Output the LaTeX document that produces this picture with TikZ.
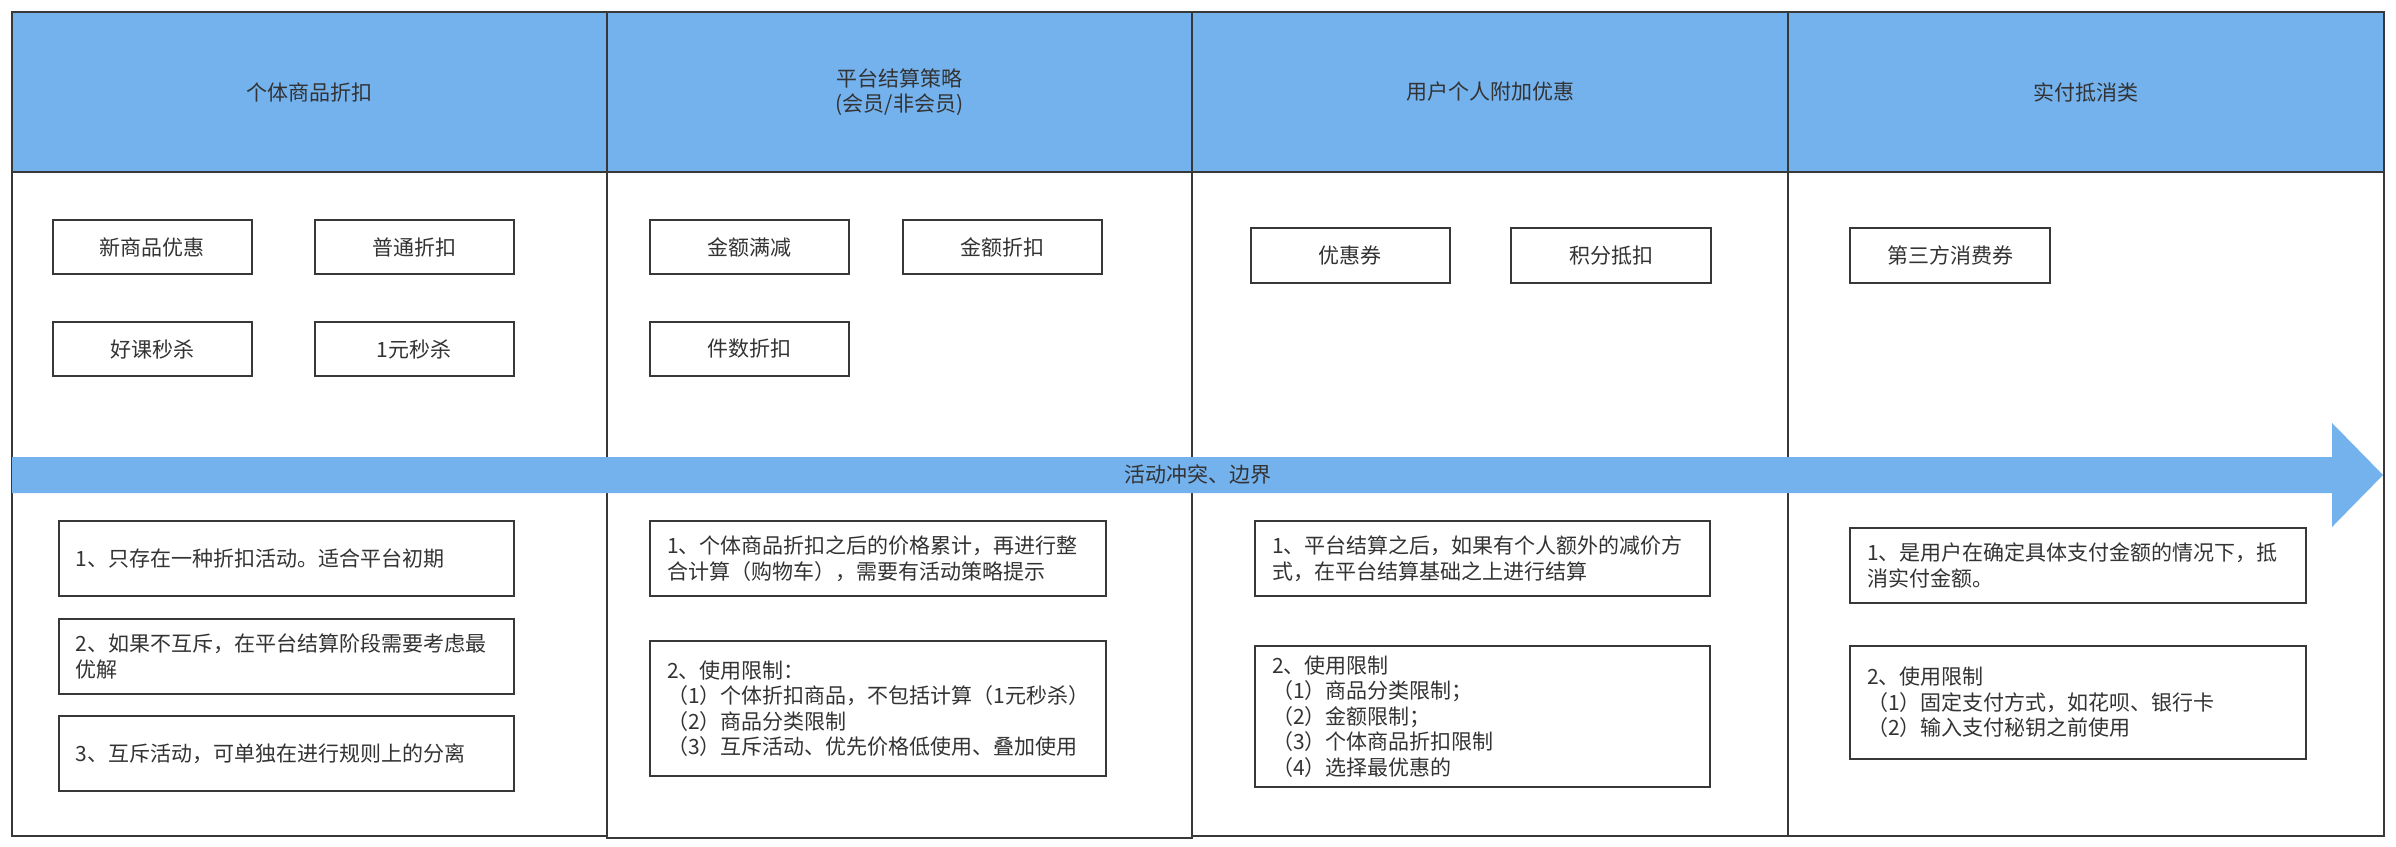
\documentclass[tikz,border=0pt]{standalone}
\usepackage{fontspec}
\setmainfont{Noto Sans CJK SC}
\definecolor{hblue}{RGB}{116,178,238}
\definecolor{linec}{RGB}{56,56,56}
\definecolor{txtc}{RGB}{51,51,51}
\begin{document}
\begin{tikzpicture}[x=1pt,y=-1pt,
  font=\fontsize{21pt}{25.5pt}\selectfont, text=txtc,
  hdr/.style={draw=linec, line width=2pt, fill=hblue},
  body/.style={draw=linec, line width=2pt, fill=white},
  tag/.style={draw=linec, line width=2pt, fill=white, minimum width=199pt, minimum height=54pt, inner sep=0pt, align=center},
  note/.style={draw=linec, line width=2pt, fill=white, inner xsep=17pt, inner ysep=0pt, text width=#1-34pt, minimum width=#1, align=left},
  htext/.style={align=center, inner sep=0pt}
]
\useasboundingbox (0,0) rectangle (2396,846);
% column bodies
\draw[body] (12,172) rectangle (607,836);
\draw[body] (1192,172) rectangle (1788,836);
\draw[body] (1788,172) rectangle (2384,836);
\draw[body] (607,172) rectangle (1192,838);
% headers
\draw[hdr] (12,12) rectangle (607,172);
\draw[hdr] (607,12) rectangle (1192,172);
\draw[hdr] (1192,12) rectangle (1788,172);
\draw[hdr] (1788,12) rectangle (2384,172);
\node[htext] (h1) at (309.5,92) {个体商品折扣};
\node[htext] (h2) at (899.5,92) {平台结算策略\\(会员/非会员)};
\node[htext] (h3) at (1490,92) {用户个人附加优惠};
\node[htext] (h4) at (2086,92) {实付抵消类};
% tags
\node[tag] (t11) at (152.3,247) {新商品优惠};
\node[tag] (t12) at (414,247) {普通折扣};
\node[tag] (t13) at (152.3,349) {好课秒杀};
\node[tag] (t14) at (414,349) {1元秒杀};
\node[tag] (t21) at (749,247) {金额满减};
\node[tag] (t22) at (1002,247) {金额折扣};
\node[tag] (t23) at (749,349) {件数折扣};
\node[tag, minimum height=55pt] (t31) at (1350,255.5) {优惠券};
\node[tag, minimum height=55pt, minimum width=200pt] (t32) at (1611,255.5) {积分抵扣};
\node[tag, minimum height=55pt, minimum width=200pt] (t41) at (1950,255.5) {第三方消费券};
% arrow
\fill[hblue] (12,457) -- (2332,457) -- (2332,423) -- (2383,475) -- (2332,527) -- (2332,493) -- (12,493) -- cycle;
\node[inner sep=0pt] (arrowlabel) at (1197.5,475) {活动冲突、边界};
% notes
\node[note=455pt, minimum height=75pt] (n11) at (286,558.5) {1、只存在一种折扣活动。适合平台初期};
\node[note=455pt, minimum height=75pt] (n12) at (286,656.5) {2、如果不互斥，在平台结算阶段需要考虑最\\优解};
\node[note=455pt, minimum height=75pt] (n13) at (286,753.5) {3、互斥活动，可单独在进行规则上的分离};
\node[note=456pt, minimum height=75pt] (n21) at (878,558.5) {1、个体商品折扣之后的价格累计，再进行整\\合计算（购物车），需要有活动策略提示};
\node[note=456pt, minimum height=135pt] (n22) at (878,708.5) {2、使用限制：\\（1）个体折扣商品，不包括计算（1元秒杀）\\（2）商品分类限制\\（3）互斥活动、优先价格低使用、叠加使用};
\node[note=455pt, minimum height=75pt] (n31) at (1482.5,558.5) {1、平台结算之后，如果有个人额外的减价方\\式，在平台结算基础之上进行结算};
\node[note=455pt, minimum height=141pt] (n32) at (1482.5,716.5) {2、使用限制\\（1）商品分类限制；\\（2）金额限制；\\（3）个体商品折扣限制\\（4）选择最优惠的};
\node[note=456pt, minimum height=75pt] (n41) at (2078,565.5) {1、是用户在确定具体支付金额的情况下，抵\\消实付金额。};
\node[note=456pt, minimum height=113pt] (n42) at (2078,702.5) {2、使用限制\\（1）固定支付方式，如花呗、银行卡\\（2）输入支付秘钥之前使用};
\end{tikzpicture}
\end{document}
